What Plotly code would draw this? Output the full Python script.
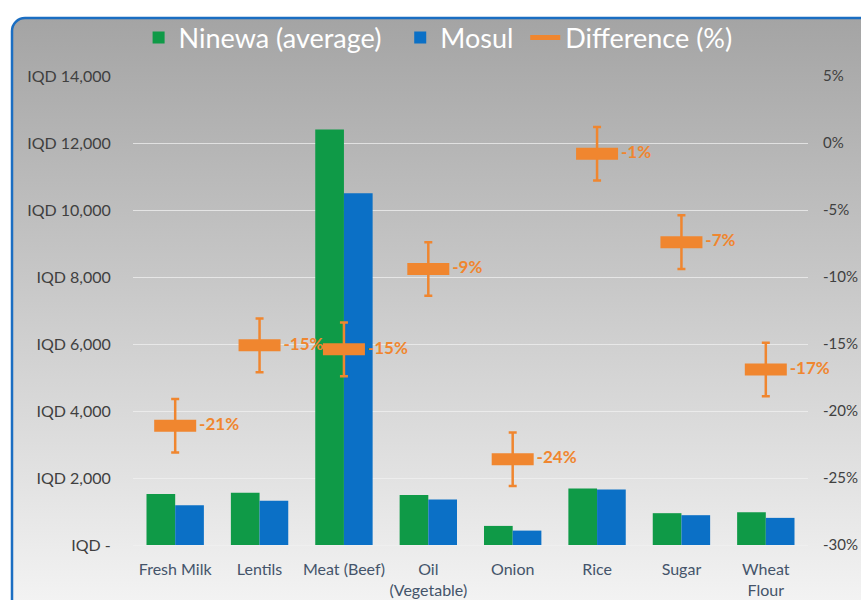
import base64
import plotly.graph_objects as go

# Data
categories = ["Fresh Milk", "Lentils", "Meat (Beef)", "Oil<br>(Vegetable)",
              "Onion", "Rice", "Sugar", "Wheat<br>Flour"]
ninewa_avg = [1520, 1560, 12400, 1490, 570, 1690, 950, 980]
mosul = [1190, 1320, 10500, 1360, 430, 1660, 890, 810]
difference_pct = [-21.1, -15.1, -15.4, -9.4, -23.6, -0.8, -7.4, -16.9]
difference_err = [2.0, 2.0, 2.0, 2.0, 2.0, 2.0, 2.0, 2.0]

left_ticks = [0, 2000, 4000, 6000, 8000, 10000, 12000, 14000]
left_ticktext = ["IQD -", "IQD 2,000", "IQD 4,000", "IQD 6,000",
                 "IQD 8,000", "IQD 10,000", "IQD 12,000", "IQD 14,000"]
right_ticks = [-30, -25, -20, -15, -10, -5, 0, 5]

GREEN = "#0f9a47"
BLUE = "#0b70c6"
ORANGE = "#f0862f"
FONT = "Lato"

W, H = 861, 600
M_L, M_R, M_T, M_B = 133, 53, 76, 55
plot_w = W - M_L - M_R
plot_h = H - M_T - M_B

# Background panel: grey gradient, rounded corner, blue border
svg = f"""<svg xmlns="http://www.w3.org/2000/svg" width="{W}" height="{H}" viewBox="0 0 {W} {H}" preserveAspectRatio="none">
<defs><linearGradient id="g" x1="0" y1="0" x2="0" y2="1">
<stop offset="0" stop-color="#a4a4a4"/><stop offset="1" stop-color="#f5f5f5"/>
</linearGradient></defs>
<rect x="12" y="18" width="900" height="600" rx="13" ry="13" fill="url(#g)" stroke="#1b6ec2" stroke-width="2.5"/>
</svg>"""
bg_uri = "data:image/svg+xml;base64," + base64.b64encode(svg.encode()).decode()

# labels use a plain hyphen like the original
diff_labels = ["\u00a0" + f"{v:.0f}%" for v in difference_pct]

fig = go.Figure()

fig.add_trace(go.Bar(
    name="Ninewa (average)\u00a0\u00a0",
    x=categories,
    y=ninewa_avg,
    marker=dict(color=GREEN, line=dict(width=0)),
))

fig.add_trace(go.Bar(
    name="Mosul\u00a0",
    x=categories,
    y=mosul,
    marker=dict(color=BLUE, line=dict(width=0)),
))

fig.add_trace(go.Scatter(
    name="Difference (%)",
    x=categories,
    y=difference_pct,
    yaxis="y2",
    mode="markers+text",
    marker=dict(symbol="line-ew", size=30, color=ORANGE,
                line=dict(color=ORANGE, width=12)),
    error_y=dict(type="data", array=difference_err, color=ORANGE,
                 thickness=2.5, width=4),
    text=diff_labels,
    textposition="middle right",
    textfont=dict(family=FONT, size=17, color=ORANGE, weight="bold"),
    cliponaxis=False,
    showlegend=False,
))

# legend entry only: thick orange dash like the original's pill glyph
fig.add_trace(go.Scatter(
    name="Difference (%)",
    x=[None], y=[None],
    yaxis="y2",
    mode="lines",
    line=dict(color=ORANGE, width=11),
))

fig.add_layout_image(dict(
    source=bg_uri,
    xref="paper", yref="paper",
    x=-M_L / plot_w, y=1 + M_T / plot_h,
    sizex=W / plot_w, sizey=H / plot_h,
    xanchor="left", yanchor="top",
    sizing="stretch", layer="below",
))

fig.update_layout(
    width=W, height=H,
    margin=dict(l=M_L, r=M_R, t=M_T, b=M_B, autoexpand=False),
    paper_bgcolor="white",
    plot_bgcolor="rgba(0,0,0,0)",
    barmode="group",
    bargap=0.32,
    bargroupgap=0,
    font=dict(family=FONT, color="#404040"),
    showlegend=True,
    legend=dict(
        orientation="h",
        x=0.452, xanchor="center",
        y=1 + (M_T - 38) / plot_h, yanchor="middle",
        font=dict(family=FONT, size=27, color="white"),
        bgcolor="rgba(0,0,0,0)",
        itemsizing="constant",
    ),
    xaxis=dict(
        range=[-0.5, len(categories) - 0.5],
        tickangle=0,
        tickfont=dict(family=FONT, size=16, color="#44546a"),
        showgrid=False,
        showline=False,
        ticks="outside", ticklen=10, tickcolor="rgba(0,0,0,0)",
        automargin=False,
    ),
    yaxis=dict(
        range=[0, 14000],
        tickvals=left_ticks,
        ticktext=left_ticktext,
        tickfont=dict(family=FONT, size=16, color="#404040"),
        ticks="outside", ticklen=18, tickcolor="rgba(0,0,0,0)",
        showgrid=True, gridcolor="rgba(240,240,240,0.75)", gridwidth=1,
        zeroline=True, zerolinecolor="rgba(240,240,240,0.75)", zerolinewidth=1,
        showline=False,
        automargin=False,
    ),
    yaxis2=dict(
        range=[-30, 5],
        tickvals=right_ticks,
        ticktext=[f"{v}%" for v in right_ticks],
        overlaying="y",
        side="right",
        tickfont=dict(family=FONT, size=15, color="#404040"),
        ticks="outside", ticklen=11, tickcolor="rgba(0,0,0,0)",
        showgrid=False,
        zeroline=False,
        showline=False,
        automargin=False,
    ),
)

# drop the default page margin so the figure sits at the window origin
fig.write_html("out.html", config={"displayModeBar": False},
               post_script="document.body.style.margin='0';")
